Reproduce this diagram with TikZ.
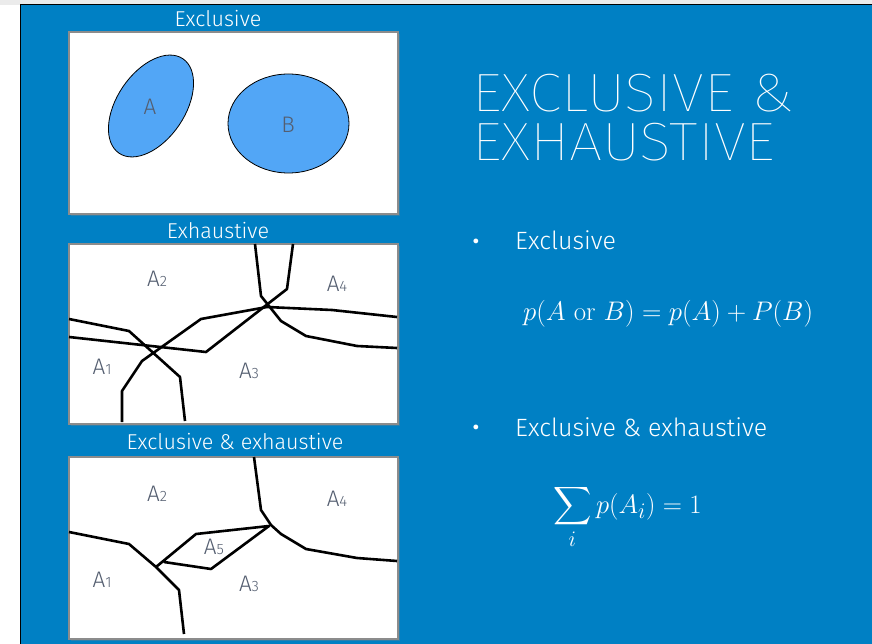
\documentclass[tikz,border=0pt]{standalone}
\usepackage{amsmath}
\usepackage{fontspec}
\IfFontExistsTF{Fira Sans Light}
  {\newfontfamily\bodyfont{Fira Sans Light}}
  {\newfontfamily\bodyfont{Liberation Sans}}
\IfFontExistsTF{Fira Sans Thin}
  {\newfontfamily\titlefont[FakeStretch=1.1]{Fira Sans Thin}}
  {\IfFontExistsTF{Fira Sans ExtraLight}
    {\newfontfamily\titlefont[FakeStretch=1.1]{Fira Sans ExtraLight}}
    {\newfontfamily\titlefont{Liberation Sans}}}
\usepackage{tikz}
\usetikzlibrary{positioning,shadows}
\definecolor{cbg}{RGB}{0,128,196}
\definecolor{cblob}{RGB}{82,166,246}
\definecolor{cframe}{RGB}{140,140,140}
\definecolor{clabel}{RGB}{84,94,112}
\newcommand{\regname}[1]{A{\fontsize{15}{15}\selectfont #1}}

\begin{document}
\begin{tikzpicture}[x=1pt, y=-1pt,
  panel/.style={draw=cframe, line width=2.2pt, fill=white, minimum width=329pt,
                drop shadow={shadow xshift=2pt, shadow yshift=-2pt, opacity=.35}},
  paneltitle/.style={text=white, inner sep=0pt, font=\bodyfont\fontsize{21.5}{21.5}\selectfont},
  reg/.style={text=clabel, inner sep=0pt, font=\bodyfont\fontsize{22.5}{22.5}\selectfont},
  cut/.style={line width=2.6pt, line join=round},
  blob/.style={draw=black, line width=0.8pt, fill=cblob},
  headline/.style={anchor=base west, text=white, inner sep=0pt, font=\titlefont\fontsize{54}{54}\selectfont},
  itemtext/.style={anchor=base west, text=white, inner sep=0pt, font=\bodyfont\fontsize{25}{25}\selectfont},
  bulletmark/.style={anchor=base, text=white, inner sep=0pt, font=\bodyfont\fontsize{32}{32}\selectfont},
  formula/.style={anchor=base west, text=white, inner sep=0pt, transform shape, font=\fontsize{24.88}{24.88}\selectfont}]
% slide background
\useasboundingbox (0,0) rectangle (872,644);
\fill[black!8] (0,0) rectangle (872,5);
\fill[cbg] (20,5) rectangle (872,644);
\draw[line width=1pt] (20,644) -- (20,5) -- (872,5);

% the three panels
\node[panel, minimum height=182pt] (p1) at (233.5,123) {};
\node[panel, minimum height=180pt] (p2) at (233.5,334) {};
\node[panel, minimum height=182pt] (p3) at (233.5,548) {};
\node[paneltitle] (t1) at (218,19) {Exclusive};
\node[paneltitle] (t2) at (218,231) {Exhaustive};
\node[paneltitle] (t3) at (235,442) {Exclusive \& exhaustive};

% exclusive
\draw[blob] (151,106) ellipse [x radius=57, y radius=34, rotate=56];
\draw[blob] (288.5,123.5) ellipse [x radius=60.5, y radius=49.5];
\node[reg] (la) at (150,107) {A};
\node[reg] (lb) at (288,125) {B};

% exhaustive
\draw[cut] (69,319) -- (129,331) -- (180,377) -- (185,421);
\draw[cut] (69,337) -- (206,352) -- (287,289) -- (293,244);
\draw[cut] (122,422) -- (122,391) -- (142,361) -- (201,319) -- (267,307) -- (332,310) -- (397,317);
\draw[cut] (255,244) -- (261,296) -- (281,321) -- (306,336) -- (357,346) -- (397,348);
\node[reg] (e2) at (157,279) {\regname{2}};
\node[reg] (e4) at (337,284) {\regname{4}};
\node[reg] (e1) at (102,367) {\regname{1}};
\node[reg] (e3) at (249,371) {\regname{3}};

% exclusive & exhaustive
\draw[cut] (69,532) -- (129,544) -- (156,567) -- (179,590) -- (184,634);
\draw[cut] (254,457) -- (261,510) -- (271,525) -- (281,534) -- (306,549) -- (357,558) -- (397,561);
\draw[cut] (156,567) -- (196,534) -- (269,526) -- (211,569) -- (164,562);
\node[reg] (x2) at (157,494) {\regname{2}};
\node[reg] (x4) at (337,499) {\regname{4}};
\node[reg] (x5) at (214,547) {\regname{5}};
\node[reg] (x1) at (102,580) {\regname{1}};
\node[reg] (x3) at (249,584) {\regname{3}};

% right-hand text
\node[headline] (h1) at (472,112) {EXCLUSIVE \&};
\node[headline] (h2) at (472,161) {EXHAUSTIVE};
\node[bulletmark] (d1) at (476,252) {•};
\node[itemtext] (i1) at (515,250) {Exclusive};
\node[formula, scale=1.08] (f1) at (523,320) {$p(A\ \mathrm{or}\ B) = p(A) + P(B)$};
\node[bulletmark] (d2) at (476,438) {•};
\node[itemtext] (i2) at (515,436) {Exclusive \& exhaustive};
\node[formula, scale=1.07] (f2) at (553,513) {$\displaystyle\sum_i p(A_i) = 1$};
\end{tikzpicture}
\end{document}
